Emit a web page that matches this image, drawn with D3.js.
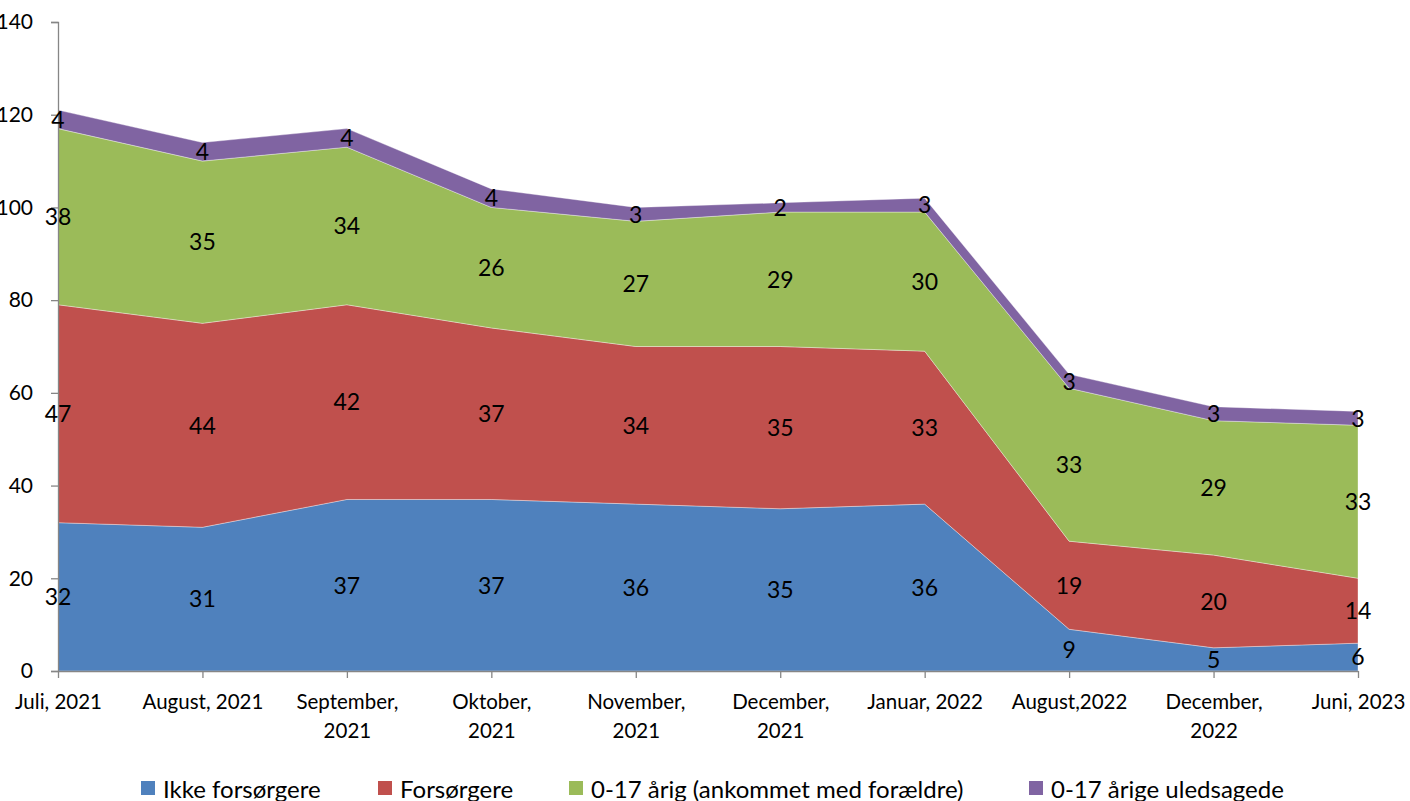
<!DOCTYPE html>
<html>
<head>
<meta charset="utf-8">
<script src="https://cdn.jsdelivr.net/npm/d3@7"></script>
<style>
  body { margin: 0; background: #fff; }
  text { font-family: Lato, "Open Sans", sans-serif; fill: #000; }
</style>
</head>
<body>
<div id="chart"></div>
<script>
// data
var periods = ["Juli, 2021", "August, 2021", "September, 2021", "Oktober, 2021", "November, 2021",
    "December, 2021", "Januar, 2022", "August,2022", "December, 2022", "Juni, 2023"];
// label lines under the x axis
var periodLines = [["Juli, 2021"], ["August, 2021"], ["September,", "2021"], ["Oktober,", "2021"],
    ["November,", "2021"], ["December,", "2021"], ["Januar, 2022"], ["August,2022"],
    ["December,", "2022"], ["Juni, 2023"]];
var seriesNames = ["Ikke forsørgere", "Forsørgere", "0-17 årig (ankommet med forældre)", "0-17 årige uledsagede"];
var ikke = [32, 31, 37, 37, 36, 35, 36, 9, 5, 6];
var forsorgere = [47, 44, 42, 37, 34, 35, 33, 19, 20, 14];
var medForaeldre = [38, 35, 34, 26, 27, 29, 30, 33, 29, 33];
var uledsagede = [4, 4, 4, 4, 3, 2, 3, 3, 3, 3];
var yTicks = [0, 20, 40, 60, 80, 100, 120, 140];

var colors = ["#4F81BD", "#C0504D", "#9BBB59", "#8064A2"];

var width = 1410, height = 801;
var margin = {t: 22, r: 52, b: 130, l: 58};

var svg = d3.select("#chart").append("svg")
    .attr("width", width)
    .attr("height", height);

// build rows for the stack
var keys = ["ikke", "fors", "med", "uled"];
var rows = periods.map(function (p, i) {
    return {period: p, ikke: ikke[i], fors: forsorgere[i], med: medForaeldre[i], uled: uledsagede[i]};
});
var stacked = d3.stack().keys(keys)(rows);

var x = d3.scalePoint().domain(periods).range([margin.l, width - margin.r]);
var y = d3.scaleLinear().domain([0, 140]).range([height - margin.b, margin.t]);

var area = d3.area()
    .x(function (d) { return x(d.data.period); })
    .y0(function (d) { return y(d[0]); })
    .y1(function (d) { return y(d[1]); });

svg.append("g").selectAll("path")
    .data(stacked)
    .enter().append("path")
    .attr("d", area)
    .attr("fill", function (d, i) { return colors[i]; })
    .attr("stroke", "rgba(255,255,255,0.35)")
    .attr("stroke-width", 1);

// y axis
var yAxis = svg.append("g")
    .attr("transform", "translate(" + margin.l + ",0)")
    .call(d3.axisLeft(y).tickValues(yTicks).tickSize(7).tickPadding(18));
yAxis.select(".domain").attr("stroke", "#868686").attr("stroke-width", 1.3);
yAxis.selectAll(".tick line").attr("stroke", "#868686").attr("stroke-width", 1.3);
yAxis.selectAll(".tick text").attr("font-size", "21px").attr("font-family", "Lato, sans-serif");

// x axis
var xAxis = svg.append("g")
    .attr("transform", "translate(0," + y(0) + ")")
    .call(d3.axisBottom(x).tickSize(7).tickSizeOuter(0));
xAxis.select(".domain").attr("stroke", "#868686").attr("stroke-width", 1.3);
xAxis.selectAll(".tick line").attr("stroke", "#868686").attr("stroke-width", 1.3);
xAxis.selectAll(".tick text").remove();
xAxis.selectAll(".tick").each(function (d, i) {
    var t = d3.select(this).append("text")
        .attr("text-anchor", "middle")
        .attr("font-size", "20.5px")
        .attr("fill", "#000");
    periodLines[i].forEach(function (line, j) {
        t.append("tspan").attr("x", 0).attr("y", 38 + j * 29).text(line);
    });
});

// data labels in the middle of each layer
stacked.forEach(function (layer) {
    svg.append("g").selectAll("text")
        .data(layer)
        .enter().append("text")
        .attr("x", function (d) { return x(d.data.period); })
        .attr("y", function (d) { return y((d[0] + d[1]) / 2); })
        .attr("dy", "0.36em")
        .attr("text-anchor", "middle")
        .attr("font-size", "23px")
        .text(function (d) { return d[1] - d[0]; });
});

// legend
var legendX = [141, 378, 569, 1029];
var legend = svg.append("g").selectAll("g")
    .data(seriesNames)
    .enter().append("g")
    .attr("transform", function (d, i) { return "translate(" + legendX[i] + ",781)"; });
legend.append("rect")
    .attr("width", 14).attr("height", 14)
    .attr("fill", function (d, i) { return colors[i]; });
legend.append("text")
    .attr("x", 22).attr("y", 8).attr("dy", "0.36em")
    .attr("font-size", "24px")
    .text(function (d) { return d; });
</script>
</body>
</html>
